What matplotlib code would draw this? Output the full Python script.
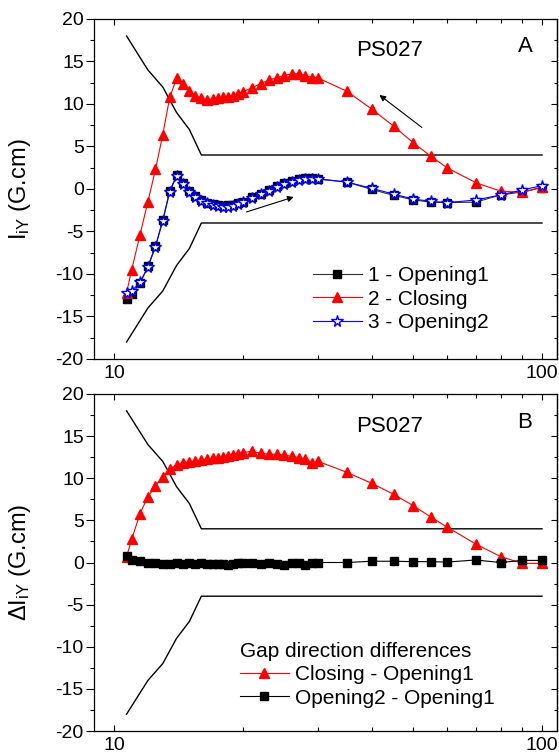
import matplotlib
matplotlib.use("Agg")
import matplotlib.pyplot as plt
from matplotlib.ticker import FixedLocator, MultipleLocator, NullFormatter, FixedFormatter

plt.rcParams['font.family'] = ['Liberation Sans', 'DejaVu Sans']
plt.rcParams['mathtext.fontset'] = 'custom'
plt.rcParams['mathtext.rm'] = 'Liberation Sans'
plt.rcParams['mathtext.it'] = 'Liberation Sans:italic'
plt.rcParams['axes.unicode_minus'] = False

# ---------------- data ----------------
gap = [10.7, 11, 11.5, 12, 12.5, 13, 13.5, 14, 14.5, 15, 15.5, 16, 16.5, 17, 17.5,
       18, 18.5, 19, 19.5, 20, 21, 22, 23, 24, 25, 26, 27, 28, 29, 30,
       35, 40, 45, 50, 55, 60, 70, 80, 90, 100]

opening1 = [-13.0, -12.35, -11.1, -9.1, -6.7, -3.65, -0.2, 1.6, 0.7, -0.25, -0.85, -1.28,
            -1.6, -1.8, -1.9, -1.95, -1.9, -1.85, -1.7, -1.5, -1.0, -0.55, -0.1, 0.4,
            0.75, 0.95, 1.15, 1.3, 1.35, 1.2, 0.82, -0.05, -0.75, -1.28, -1.55, -1.6,
            -1.55, -0.7, -0.35, 0.15]

closing = [-12.2, -9.5, -5.4, -1.5, 2.3, 6.4, 10.8, 13.0, 12.35, 11.5, 10.95, 10.65,
           10.45, 10.6, 10.75, 10.8, 10.85, 10.95, 11.15, 11.45, 11.9, 12.4, 12.8, 13.1,
           13.35, 13.55, 13.55, 13.35, 13.1, 13.05, 11.5, 9.4, 7.4, 5.45, 3.85, 2.5,
           0.75, -0.25, -0.4, 0.25]

opening2 = [-12.2, -12.0, -11.0, -9.2, -6.8, -3.76, -0.3, 1.5, 0.6, -0.35, -0.95, -1.38,
            -1.69, -1.88, -2.0, -2.1, -2.1, -1.97, -1.78, -1.57, -1.1, -0.63, -0.2, 0.27,
            0.59, 0.86, 1.05, 1.14, 1.18, 1.15, 0.82, 0.08, -0.6, -1.18, -1.45, -1.6,
            -1.3, -0.7, -0.12, 0.4]

diff_closing = [0.7, 2.75, 5.8, 7.8, 9.1, 10.2, 11.1, 11.55, 11.8, 11.95, 12.05, 12.15,
                12.25, 12.35, 12.45, 12.55, 12.65, 12.8, 12.9, 13.05, 13.2, 12.95, 12.85,
                12.85, 12.75, 12.6, 12.45, 12.3, 11.85, 12.0, 10.7, 9.4, 8.1, 6.75, 5.4,
                4.2, 2.2, 0.7, -0.1, -0.1]

diff_opening2 = [0.8, 0.35, 0.15, -0.05, -0.1, -0.15, -0.15, -0.1, -0.15, -0.1, -0.15,
                 -0.1, -0.15, -0.2, -0.15, -0.2, -0.3, -0.15, -0.1, -0.1, -0.1, -0.15,
                 -0.1, -0.15, -0.25, -0.1, -0.05, -0.25, -0.05, 0.0, 0.0, 0.15, 0.15, 0.1,
                 0.1, 0.05, 0.3, 0.0, 0.25, 0.25]

env_x = [10.7, 12, 13, 14, 15, 16, 100]
env_upper = [18, 14, 12, 9, 7, 4, 4]
env_lower = [-18, -14, -12, -9, -7, -4, -4]

x_major = [10, 100]
x_major_labels = ['10', '100']
x_minor = [20, 30, 40, 50, 60, 70, 80, 90]

# ---------------- figure ----------------
W, H = 559, 755
fig = plt.figure(figsize=(W / 100, H / 100), dpi=100)

def px_axes(l, t, r, b):
    return fig.add_axes([l / W, 1 - b / H, (r - l) / W, (b - t) / H])

axA = px_axes(94, 19, 557, 359)
axB = px_axes(94, 394, 557, 731)

def style(ax):
    ax.set_xscale('log')
    ax.set_xlim(8.98, 108.4)
    ax.set_ylim(-20, 20)
    ax.xaxis.set_major_locator(FixedLocator(x_major))
    ax.xaxis.set_major_formatter(FixedFormatter(x_major_labels))
    ax.xaxis.set_minor_locator(FixedLocator(x_minor))
    ax.xaxis.set_minor_formatter(NullFormatter())
    ax.yaxis.set_major_locator(MultipleLocator(5))
    ax.yaxis.set_minor_locator(MultipleLocator(2.5))
    ax.tick_params(axis='x', which='both', direction='in', top=True, bottom=True,
                   labelsize=14, pad=4)
    ax.tick_params(axis='x', which='major', length=4.5, width=0.8)
    ax.tick_params(axis='x', which='minor', length=3.2, width=0.8)
    ax.tick_params(axis='y', which='both', direction='out', left=True, right=False,
                   labelsize=14, pad=1.5)
    ax.tick_params(axis='y', which='major', length=5.8, width=0.8)
    ax.tick_params(axis='y', which='minor', length=2.9, width=0.8)
    for s in ax.spines.values():
        s.set_linewidth(0.9)
    sec = ax.secondary_yaxis('right')
    sec.yaxis.set_major_locator(MultipleLocator(5))
    sec.yaxis.set_minor_locator(MultipleLocator(2.5))
    sec.tick_params(axis='y', which='both', direction='in', labelright=False)
    sec.tick_params(axis='y', which='major', length=4.3, width=0.8)
    sec.tick_params(axis='y', which='minor', length=2.5, width=0.8)
    sec.spines['right'].set_linewidth(0.9)

style(axA)
style(axB)

for ax in (axA, axB):
    ax.plot(env_x, env_upper, color='black', lw=1.0, zorder=2)
    ax.plot(env_x, env_lower, color='black', lw=1.0, zorder=2)

# ---- panel A ----
axA.plot(gap, opening1, color='#333333', lw=0.8, marker='s', ms=5.5,
         mfc='black', mec='black', label='1 - Opening1', zorder=3)
axA.plot(gap, closing, color='red', lw=0.8, marker='^', ms=7,
         mfc='red', mec='red', label='2 - Closing', zorder=4)
axA.plot(gap, opening2, color='blue', lw=0.8, marker='*', ms=8.5,
         mfc='white', mec='blue', mew=1.0, label='3 - Opening2', zorder=5)

axA.set_ylabel(r'I$_{\mathrm{iY}}$ (G.cm)', fontsize=17)
axA.yaxis.set_label_coords(-0.132, 0.5)
axA.text(390, H - 51, 'PS027', transform=None, fontsize=16, ha='center', va='center')
axA.text(525, H - 47, 'A', transform=None, fontsize=16, ha='center', va='center')

axA.annotate('', xy=(41.7, 11.06), xytext=(52.4, 7.24),
             arrowprops=dict(arrowstyle='-|>', color='black', lw=0.8,
                             mutation_scale=9, shrinkA=0, shrinkB=0))
axA.annotate('', xy=(26.3, -0.94), xytext=(20.4, -2.7),
             arrowprops=dict(arrowstyle='-|>', color='black', lw=0.8,
                             mutation_scale=9, shrinkA=0, shrinkB=0))

legA = axA.legend(loc='upper left', bbox_to_anchor=((313 - 94) / 463, (359 - 266) / 340),
                  frameon=False, fontsize=15, borderpad=0, borderaxespad=0,
                  handlelength=2.35, handletextpad=0.3, labelspacing=0.22, numpoints=1)

# ---- panel B ----
axB.plot(gap, diff_closing, color='red', lw=0.8, marker='^', ms=7,
         mfc='red', mec='red', label='Closing - Opening1', zorder=3)
axB.plot(gap, diff_opening2, color='black', lw=0.8, marker='s', ms=5.5,
         mfc='black', mec='black', label='Opening2 - Opening1', zorder=4)

axB.set_ylabel(r'$\Delta$I$_{\mathrm{iY}}$ (G.cm)', fontsize=17)
axB.yaxis.set_label_coords(-0.132, 0.5)
axB.text(390, H - 426, 'PS027', transform=None, fontsize=16, ha='center', va='center')
axB.text(525, H - 422, 'B', transform=None, fontsize=16, ha='center', va='center')

legB = axB.legend(loc='upper left', bbox_to_anchor=((240 - 94) / 463, (731 - 642) / 337),
                  title='Gap direction differences', title_fontsize=15,
                  frameon=False, fontsize=15, borderpad=0, borderaxespad=0,
                  handlelength=2.35, handletextpad=0.3, labelspacing=0.22, numpoints=1)
legB._legend_box.align = 'left'
legB._legend_box.sep = 3

fig.savefig('out.png', dpi=100)
